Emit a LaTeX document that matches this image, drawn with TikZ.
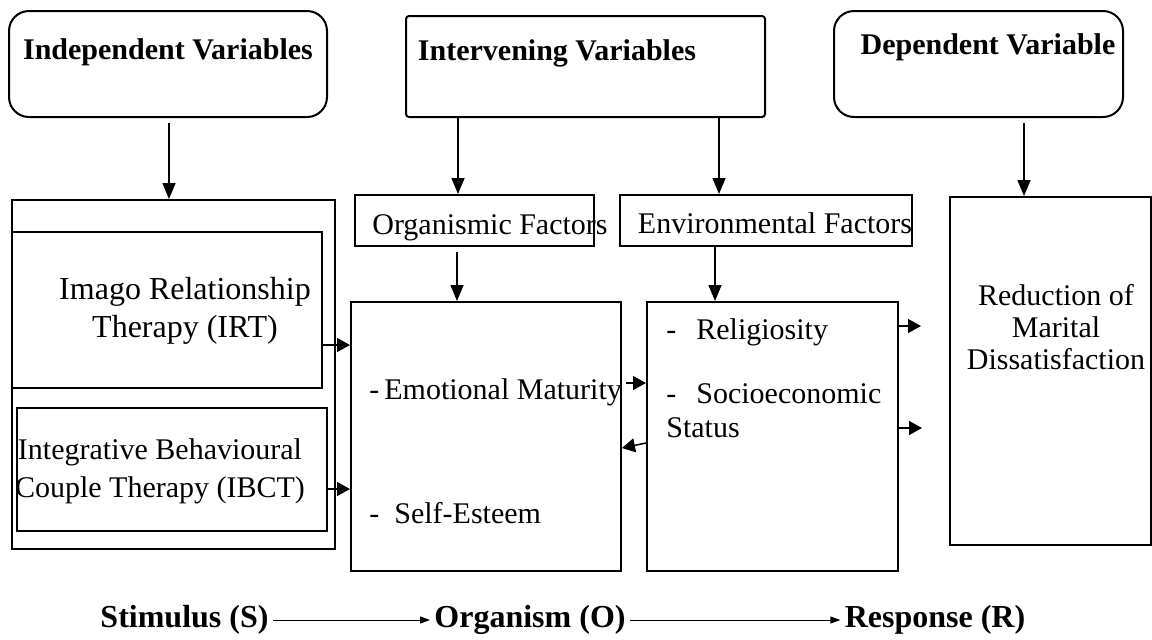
\documentclass[tikz,border=0pt]{standalone}
\usepackage{fontspec}
\setmainfont{Liberation Serif}
\usetikzlibrary{arrows.meta}

\begin{document}
\begin{tikzpicture}[x=0.5pt, y=-0.5pt]
    \tikzstyle{varbox} = [draw, line width=1pt, rectangle, rounded corners=10pt, inner sep=0pt]
    \tikzstyle{factbox} = [draw, line width=1pt, rectangle, inner sep=0pt]
    \tikzstyle{lbl} = [inner sep=0pt, font=\fontsize{15pt}{16pt}\selectfont, align=center]
    \tikzstyle{headlbl} = [inner sep=0pt, font=\fontsize{15pt}{18pt}\selectfont\bfseries]
    \tikzstyle{srolbl} = [inner sep=0pt, inner xsep=2pt, font=\fontsize{16pt}{19pt}\selectfont\bfseries]
    \tikzstyle{down} = [line width=0.75pt, -{Triangle[length=8pt, width=6.5pt]}]
    \tikzstyle{across} = [line width=0.75pt, -{Triangle[length=6.5pt, width=7pt]}]
    \tikzstyle{flow} = [line width=0.5pt, -{Triangle[length=5pt, width=3.5pt]}]

    \useasboundingbox (0,0) rectangle (1152,639);

    % top row
    \node[varbox, minimum width=159pt, minimum height=53pt] (indep) at (168,64) {};
    \node[headlbl] (indeplbl) at (168,52) {Independent Variables};
    \node[varbox, rounded corners=1.5pt, minimum width=179.5pt, minimum height=50.5pt] (interv) at (585.5,66.5) {};
    \node[headlbl] (intervlbl) at (557,53) {Intervening Variables};
    \node[varbox, minimum width=144.5pt, minimum height=53pt] (dep) at (978.5,64) {};
    \node[headlbl] (deplbl) at (988,47) {Dependent Variable};

    % independent variables
    \node[factbox, minimum width=161.5pt, minimum height=174.5pt] (indepouter) at (173.5,374.5) {};
    \node[factbox, minimum width=155pt, minimum height=78pt] (irt) at (167,310) {};
    \node[lbl, font=\fontsize{16pt}{19pt}\selectfont] (irtlbl) at (185,311) {Imago Relationship\\Therapy (IRT)};
    \node[factbox, minimum width=155pt, minimum height=61.5pt] (ibct) at (172,469.5) {};
    \node[lbl, font=\fontsize{15pt}{19pt}\selectfont] (ibctlbl) at (160,471) {Integrative Behavioural\\Couple Therapy (IBCT)};

    % intervening variables
    \node[factbox, minimum width=119.5pt, minimum height=25.5pt] (orgf) at (474.5,220.5) {};
    \node[lbl] (orgflbl) at (490,228) {Organismic Factors};
    \node[factbox, minimum width=146pt, minimum height=25.5pt] (envf) at (766,220.5) {};
    \node[lbl] (envflbl) at (775,223) {Environmental Factors};
    \node[factbox, minimum width=135pt, minimum height=134.5pt] (organism) at (486,436.5) {};
    \node[lbl, anchor=west] (emo) at (369,392) {-\,Emotional Maturity};
    \node[lbl, anchor=west] (self) at (369,513) {-~ Self-Esteem};
    \node[factbox, minimum width=125.5pt, minimum height=134.5pt] (envbox) at (772.5,436.5) {};
    \node[lbl, anchor=west] (relig) at (666,332) {-\hspace{10pt}Religiosity};
    \node[lbl, anchor=west] (socio) at (666,394) {-\hspace{10pt}Socioeconomic};
    \node[lbl, anchor=west] (status) at (666,428) {Status};

    % dependent variable
    \node[factbox, minimum width=100.5pt, minimum height=174pt] (reduc) at (1050.5,371) {};
    \node[lbl] (reduclbl) at (1056,327) {Reduction of\\Marital\\Dissatisfaction};

    % S - O - R
    \node[srolbl] (stim) at (184.5,620) {Stimulus (S)};
    \node[srolbl] (organ) at (530,620) {Organism (O)};
    \node[srolbl] (resp) at (935,620) {Response (R)};

    \coordinate (out1) at (921,326);
    \coordinate (out2) at (922,428);

    \foreach \x/\from/\to/\gap in {169/indep/indepouter/2.5, 458/interv/orgf/0, 719/interv/envf/0, 1024/dep/reduc/2.5, 457/orgf/organism/2.5, 715/envf/envbox/0}
    \draw[down, shorten <=\gap pt] (\x,0 |- \from.south) -- (\x,0 |- \to.north);

    \draw[across] (irt.east |- 0,345) -- (organism.west |- 0,345);
    \draw[across] (ibct.east |- 0,489) -- (organism.west |- 0,489);
    \draw[across, shorten <=2pt] (organism.east |- 0,383) -- (envbox.west |- 0,383);
    \draw[across] (envbox.west |- 0,443) -- (organism.east |- 0,448);
    \draw[across] (envbox.east |- out1) -- (out1);
    \draw[across] (envbox.east |- out2) -- (out2);

    \foreach \from/\to in {stim/organ, organ/resp}
    \draw[flow] (\from) -- (\to);
\end{tikzpicture}
\end{document}
